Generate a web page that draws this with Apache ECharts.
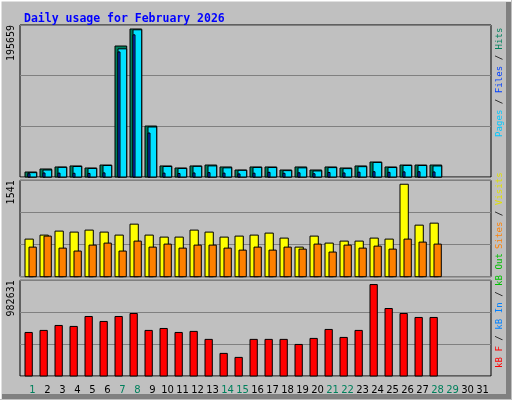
<!DOCTYPE html>
<html><head><meta charset="utf-8">
<script src="https://cdn.jsdelivr.net/npm/echarts@6/dist/echarts.min.js"></script>
<style>html,body{margin:0;padding:0;background:#c0c0c0}#c{width:512px;height:400px}</style>
</head><body><div id="c"></div>
<script>
var days = ['1','2','3','4','5','6','7','8','9','10','11','12','13','14','15','16','17','18','19','20','21','22','23','24','25','26','27','28','29','30','31'];
var weekend = ['1','7','8','14','15','21','22','28','29'];
var hitsMax = 195659, visitsMax = 1541, kbMax = 982631;
var hits  = [6400,10300,12900,14200,11600,15400,168600,190500,65600,14200,11600,14200,15400,12900,9000,12900,12900,9000,12900,9000,12900,11600,14200,19300,12900,15400,15400,15400,null,null,null];
var pages = [5600,9000,12400,13500,11000,14800,165000,189500,64400,13500,11000,13700,14300,11800,8600,12300,12200,8200,11800,7800,12100,10800,13300,18700,12200,14800,14800,14200,null,null,null];
var files = [4200,5200,5000,4800,4600,5300,161000,183000,56600,5000,4500,5200,5600,5000,4000,4900,6000,4800,5400,4200,5800,5200,6200,6800,6000,6600,6800,6500,null,null,null];
var visits = [601,665,729,713,745,713,665,840,665,633,633,745,713,633,649,665,697,617,473,649,537,569,569,617,601,1478,824,856,null,null,null];
var sites  = [473,649,457,410,505,537,410,569,473,521,457,505,505,457,425,473,425,473,441,521,394,505,457,489,441,601,553,521,null,null,null];
var kbF = [447000,468000,519000,509000,611000,560000,611000,642000,468000,488000,447000,458000,376000,232000,191000,376000,376000,376000,324000,386000,478000,396000,468000,939000,693000,642000,601000,601000,null,null,null];

function pairs(arr){ var o=[]; for(var i=0;i<arr.length;i++){ if(arr[i]!=null) o.push([i+1, arr[i]]); } return o; }
function barRender(x0, x1, color){
  return function(params, api){
    var d = api.value(0), v = api.value(1);
    var base = api.coord([d,0]), top = api.coord([d,v]);
    var s = api.size([1,0])[0];
    var left = base[0] - s/2;
    return {type:'rect', shape:{x:left + x0*s/15, y:top[1], width:(x1-x0)*s/15, height:base[1]-top[1]},
      style:{fill:color, stroke:'#000', lineWidth:1}};
  };
}
var xMin = 1 - 12.5/15, xMax = 1 + 458.5/15;
var mono = 'DejaVu Sans Mono';
var grids = [
  {left:20, right:21, top:25, height:152},
  {left:20, right:21, top:180.3, height:96.4},
  {left:20, right:21, top:280.3, height:95.7},
  {left:25, width:465, top:377, height:1}
];
grids.forEach(function(g,i){ if(i<3){ g.show=true; g.borderColor='#000'; g.borderWidth=1; g.backgroundColor='#c0c0c0'; } });
function xv(i){ return {type:'value', gridIndex:i, min:xMin, max:xMax, axisLine:{show:false}, axisTick:{show:false}, axisLabel:{show:false}, splitLine:{show:false}}; }
function yv(i, mx){ return {type:'value', gridIndex:i, min:0, max:mx, interval:mx/3, axisLine:{show:false}, axisTick:{show:false},
  splitLine:{show:true, lineStyle:{color:'#808080', width:1}},
  axisLabel:{show:true, rotate:90, margin:4, fontFamily:mono, fontSize:10, color:'#000', verticalAlign:'bottom', align:'right',
    formatter:function(v){ return Math.abs(v-mx)<1e-6 ? String(mx) : ''; }}}; }
var option = {
  backgroundColor:'#c0c0c0',
  animation:false,
  title:{text:'Daily usage for February 2026', left:19, top:8, textStyle:{fontFamily:mono, fontSize:11.5, fontWeight:'bold', color:'#0000ff'}},
  grid: grids,
  xAxis: [xv(0), xv(1), xv(2),
    {type:'category', gridIndex:3, data:days, axisLine:{show:false}, axisTick:{show:false}, splitLine:{show:false},
     axisLabel:{interval:0, margin:7, fontFamily:'DejaVu Sans', fontSize:10,
       color:function(v){ return weekend.indexOf(v)>=0 ? '#00805c' : '#000'; }}}],
  yAxis: [yv(0,hitsMax), yv(1,visitsMax), yv(2,kbMax), {type:'value', gridIndex:3, show:false}],
  series: [
    {type:'custom', xAxisIndex:0, yAxisIndex:0, data:pairs(hits), renderItem:barRender(0,11.7,'#00805c')},
    {type:'custom', xAxisIndex:0, yAxisIndex:0, data:pairs(pages), renderItem:barRender(3,11.7,'#00e0ff')},
    {type:'custom', xAxisIndex:0, yAxisIndex:0, data:pairs(files), renderItem:barRender(3,5,'#0040ff')},
    {type:'custom', xAxisIndex:1, yAxisIndex:1, data:pairs(visits), renderItem:barRender(0,8.3,'#ffff00')},
    {type:'custom', xAxisIndex:1, yAxisIndex:1, data:pairs(sites), renderItem:barRender(4,11.3,'#ff8000')},
    {type:'custom', xAxisIndex:2, yAxisIndex:2, data:pairs(kbF), renderItem:barRender(0,7.3,'#ff0000')}
  ],
  graphic: [
    {type:'polyline', shape:{points:[[0.5,399],[0.5,0.5],[511,0.5]]}, style:{stroke:'#ffffff', lineWidth:2, fill:null}},
    {type:'polyline', shape:{points:[[508.5,2],[508.5,396.5],[2,396.5]]}, style:{stroke:'#808080', lineWidth:5, fill:null}},
    {type:'text', x:500, y:137, rotation:Math.PI/2, style:{text:'{a|Pages}{s| / }{b|Files}{s| / }{c|Hits}', verticalAlign:'middle', align:'left',
      rich:{a:{fill:'#00c8ff',fontFamily:mono,fontSize:9.1},b:{fill:'#0040ff',fontFamily:mono,fontSize:9.1},c:{fill:'#00805c',fontFamily:mono,fontSize:9.1},s:{fill:'#000',fontFamily:mono,fontSize:9.1}}}},
    {type:'text', x:500, y:249, rotation:Math.PI/2, style:{text:'{a|Sites}{s| / }{b|Visits}', verticalAlign:'middle', align:'left',
      rich:{a:{fill:'#ff8000',fontFamily:mono,fontSize:9.1},b:{fill:'#e0e000',fontFamily:mono,fontSize:9.1},s:{fill:'#000',fontFamily:mono,fontSize:9.1}}}},
    {type:'text', x:500, y:368, rotation:Math.PI/2, style:{text:'{a|kB F}{s| / }{b|kB In}{s| / }{c|kB Out}', verticalAlign:'middle', align:'left',
      rich:{a:{fill:'#ff0000',fontFamily:mono,fontSize:9.1},b:{fill:'#0080ff',fontFamily:mono,fontSize:9.1},c:{fill:'#00c000',fontFamily:mono,fontSize:9.1},s:{fill:'#000',fontFamily:mono,fontSize:9.1}}}}
  ]
};
echarts.init(document.getElementById('c')).setOption(option);
</script></body></html>
